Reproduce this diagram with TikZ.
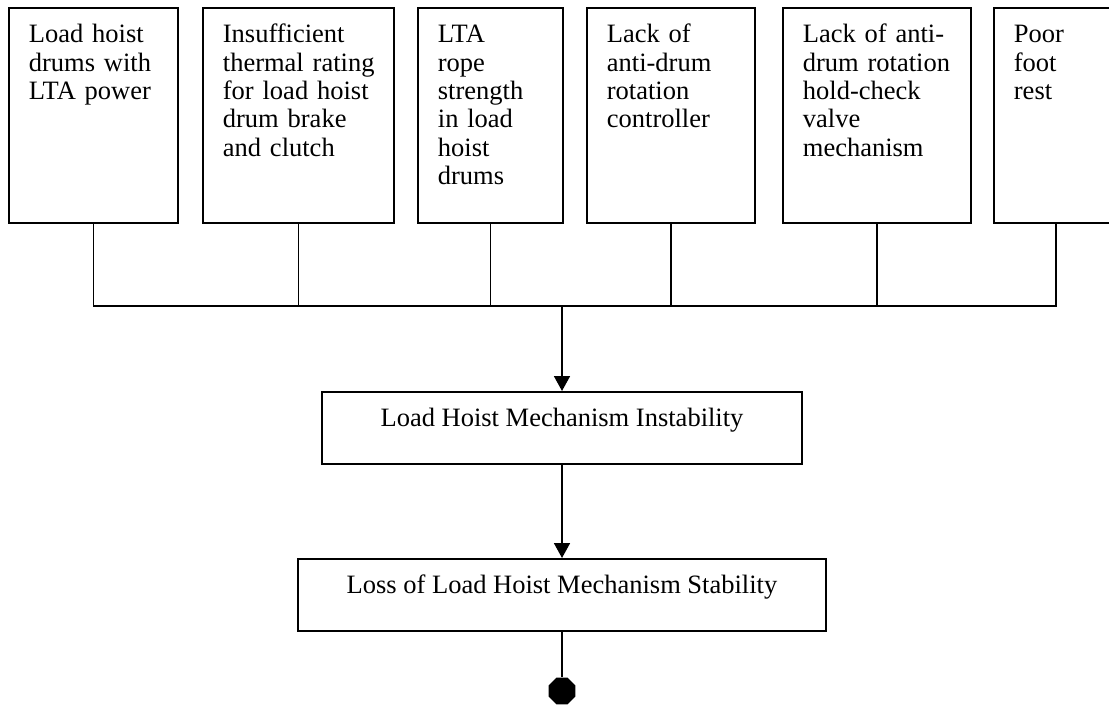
\documentclass[tikz,border=0pt]{standalone}
\usepackage{fontspec}
\setmainfont{Liberation Serif}
\usetikzlibrary{arrows.meta,shapes.geometric}

\tikzset{
	cause/.style={draw, line width=1.8pt, anchor=north west, align=left,
		inner xsep=20pt, inner ysep=0pt, text height=35pt, text depth=180pt},
	event/.style={draw, line width=1.8pt, align=center, inner xsep=0pt, inner ysep=0pt,
		text height=35pt, text depth=37pt},
	link/.style={line width=1.8pt},
	flow/.style={link, -{Triangle[width=16pt,length=15pt]}},
}

\begin{document}
	\begin{tikzpicture}[x=1pt, y=-1pt, font=\fontsize{26.5}{28.3}\selectfont]
	\useasboundingbox (0,0) rectangle (1109,706);
	\begin{scope}
	  % cause boxes
	  \node[cause, text width=129pt] (b1) at (8,7) {Load hoist\\drums with\\LTA power};
	  \node[cause, text width=151pt] (b2) at (202,7) {Insufficient\\\mbox{thermal rating}\\for load hoist\\drum brake\\and clutch};
	  \node[cause, text width=105pt] (b3) at (417,7) {LTA\\rope\\strength\\in load\\hoist\\drums};
	  \node[cause, text width=128pt] (b4) at (586,7) {Lack of\\anti-drum\\rotation\\controller};
	  \node[cause, text width=148pt] (b5) at (782,7) {\mbox{Lack of anti-}\\\mbox{drum rotation}\\hold-check\\valve\\mechanism};
	  \node[cause, text width=140pt] (b6) at (993,7) {Poor\\foot\\rest}; % runs past the right edge

	  % events
	  \node[event, minimum width=480pt] (inst) at (562,391) [anchor=north] {Load Hoist Mechanism Instability};
	  \node[event, minimum width=528pt] (loss) at (562,558) [anchor=north] {Loss of Load Hoist Mechanism Stability};
	  \node[regular polygon, regular polygon sides=8, fill=black, inner sep=0pt,
		minimum size=29pt] (term) at (562,691) {};

	  % connectors
	  \coordinate (bus) at (562,306);
	  \coordinate (d6) at ([xshift=63pt]b6.south west);
	  \draw[link] (b1.south) |- (bus) -| (d6);
	  \foreach \b in {b2,b3,b4,b5}
		\draw[link] (\b.south) -- (\b.south |- bus);
	  \draw[flow] (bus) -- (inst.north);
	  \draw[flow] (inst.south) -- (loss.north);
	  \draw[link] (loss.south) -- (term.north);
	\end{scope}
	\end{tikzpicture}
\end{document}
